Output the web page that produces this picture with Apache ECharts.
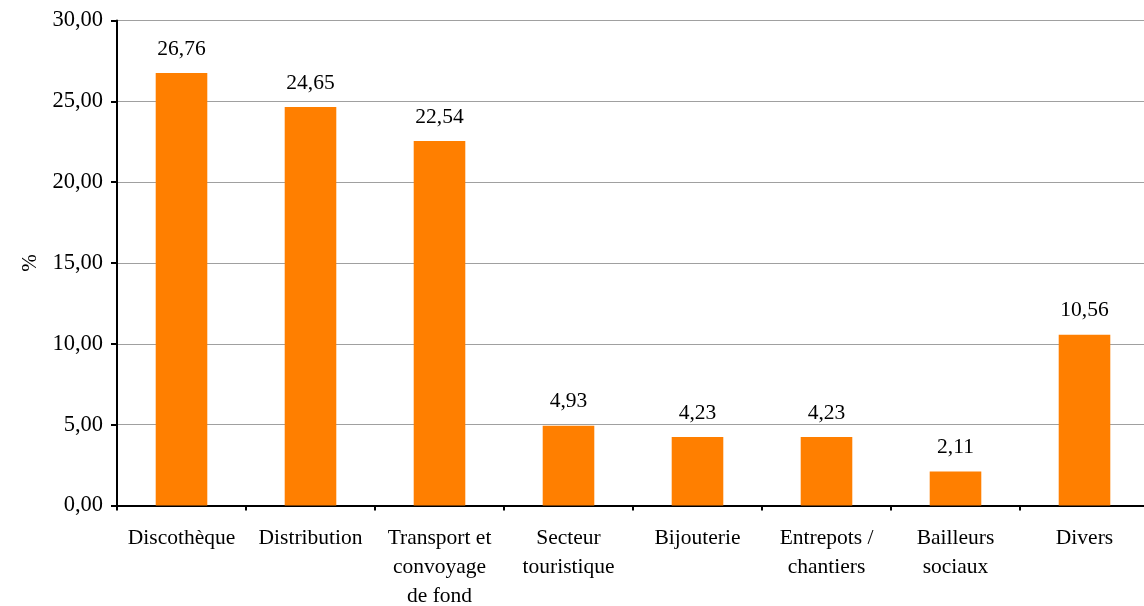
<!DOCTYPE html>
<html><head><meta charset="utf-8">
<script src="https://cdn.jsdelivr.net/npm/echarts@6/dist/echarts.min.js"></script>
<style>html,body{margin:0;padding:0;background:#fff}#c{width:1144px;height:606px}</style>
</head><body><div id="c"></div>
<script>
const categories = ['Discothèque','Distribution','Transport et\nconvoyage\nde fond','Secteur\ntouristique','Bijouterie','Entrepots /\nchantiers','Bailleurs\nsociaux','Divers'];
const values = [26.76, 24.65, 22.54, 4.93, 4.23, 4.23, 2.11, 10.56];
const yTicks = [0, 5, 10, 15, 20, 25, 30];
const fmt = v => v.toFixed(2).replace('.', ',');
const font = '"Liberation Serif", "Times New Roman", serif';
const chart = echarts.init(document.getElementById('c'), null, {renderer:'canvas'});
chart.setOption({
  animation:false,
  grid:{left:117, top:20.5, width:1032, height:485, containLabel:false, outerBoundsMode:'none'},
  xAxis:{type:'category', data:categories,
    axisLine:{lineStyle:{color:'#000', width:2}},
    axisTick:{show:true, length:5, lineStyle:{color:'#000', width:2}},
    axisLabel:{color:'#000', fontFamily:font, fontSize:21.5, lineHeight:29, margin:18, interval:0}
  },
  yAxis:{type:'value', min:yTicks[0], max:yTicks[yTicks.length-1], interval:5,
    name:'%', nameLocation:'middle', nameGap:75, nameRotate:90,
    nameTextStyle:{color:'#000', fontFamily:font, fontSize:21},
    axisLine:{show:true, lineStyle:{color:'#000', width:2}},
    axisTick:{show:true, length:6, lineStyle:{color:'#000', width:2}},
    axisLabel:{color:'#000', fontFamily:font, fontSize:22.5, margin:14, formatter:v=>fmt(v)},
    splitLine:{lineStyle:{color:'#a0a0a0', width:1}}
  },
  series:[{type:'bar', data:values, barWidth:'40%',
    itemStyle:{color:'#FF7F00'},
    label:{show:true, position:'top', distance:13, color:'#000', fontFamily:font, fontSize:21.5, formatter:p=>fmt(p.value)}
  }]
});
</script></body></html>
